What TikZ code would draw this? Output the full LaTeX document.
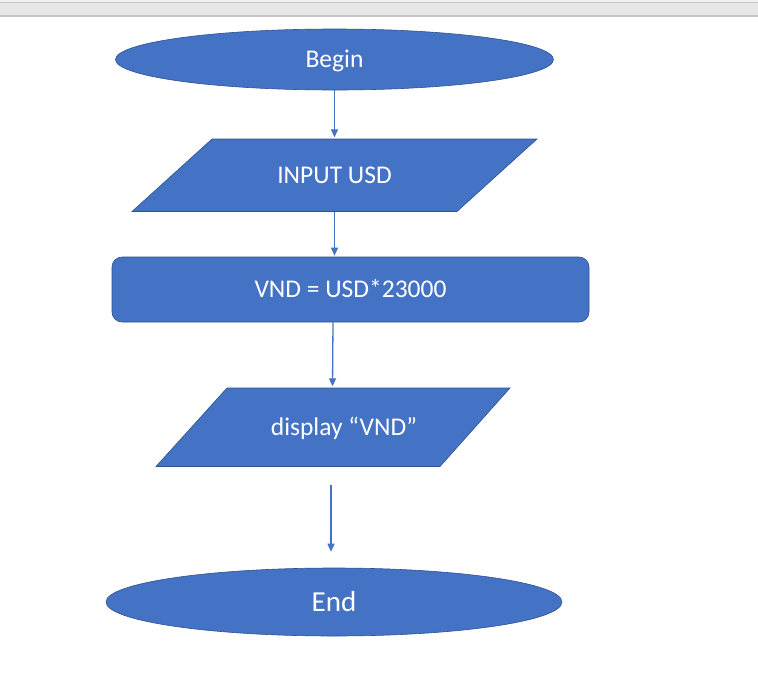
\documentclass[tikz,border=0pt]{standalone}
\usepackage{fontspec}
\setmainfont{Carlito}
\usetikzlibrary{shapes.geometric,arrows.meta}
\definecolor{ofblue}{HTML}{4472C4}
\definecolor{ofedge}{HTML}{2F528F}
\definecolor{barfill}{HTML}{E6E6E6}
\definecolor{barline}{HTML}{C6C6C6}
\tikzset{
  shapefill/.style={fill=ofblue, draw=ofedge, line width=0.6pt},
  captext/.style={text=white, text height=16pt, text depth=0pt, font=\fontsize{25.5}{30}\selectfont},
  term/.style={ellipse, shapefill, inner sep=0pt, captext},
  procbox/.style={rectangle, rounded corners=10pt, shapefill, inner sep=0pt, captext},
  iotext/.style={rectangle, inner sep=0pt, captext}
}
\tikzset{flow/.style={draw=ofblue, line width=1.3pt, -{Triangle[width=7pt,length=8pt]}}}
\begin{document}
\begin{tikzpicture}[x=1pt,y=-1pt]
\useasboundingbox (0,0) rectangle (758,681);
\fill[white] (0,0) rectangle (758,681);
\fill[barfill!60] (0,0) rectangle (758,2);
\fill[barfill] (0,2) rectangle (758,16);
\draw[barline, line width=1pt] (0,2.5) -- (758,2.5);
\draw[barline, line width=1.2pt] (0,16) -- (758,16);

\node[term, minimum width=438pt, minimum height=61pt] (begin) at (334.5,59.5) {Begin};

\fill[shapefill] (132,211.5) -- (212,139) -- (537,139) -- (457,211.5) -- cycle;
\node[iotext, minimum width=245pt, minimum height=72.5pt] (input) at (334.5,175.25) {INPUT USD};

\node[procbox, minimum width=477pt, minimum height=65pt] (calc) at (350.5,289.5) {VND = USD*23000};

\fill[shapefill] (156,466.5) -- (227,388) -- (510,388) -- (440,466.5) -- cycle;
\node[iotext, minimum width=212pt, minimum height=78.5pt] (out) at (332,427.25) {\hspace*{24pt}display “VND”};

\node[term, minimum width=456pt, minimum height=68pt, font=\fontsize{29}{34}\selectfont, text height=18.3pt] (end) at (334,602) {End};

\draw[flow, shorten >=1.5pt] (begin.south) -- (begin.south |- input.north);
\draw[flow, shorten >=1pt] (input.south) -- (input.south |- calc.north);
\draw[flow, shorten >=1.5pt] ([xshift=-17.5pt]calc.south) -- ([xshift=0.5pt]out.north);
\draw[flow, shorten <=18pt, shorten >=16pt] ([xshift=-1pt]out.south) -- ([xshift=-3pt]end.north);
\end{tikzpicture}
\end{document}
